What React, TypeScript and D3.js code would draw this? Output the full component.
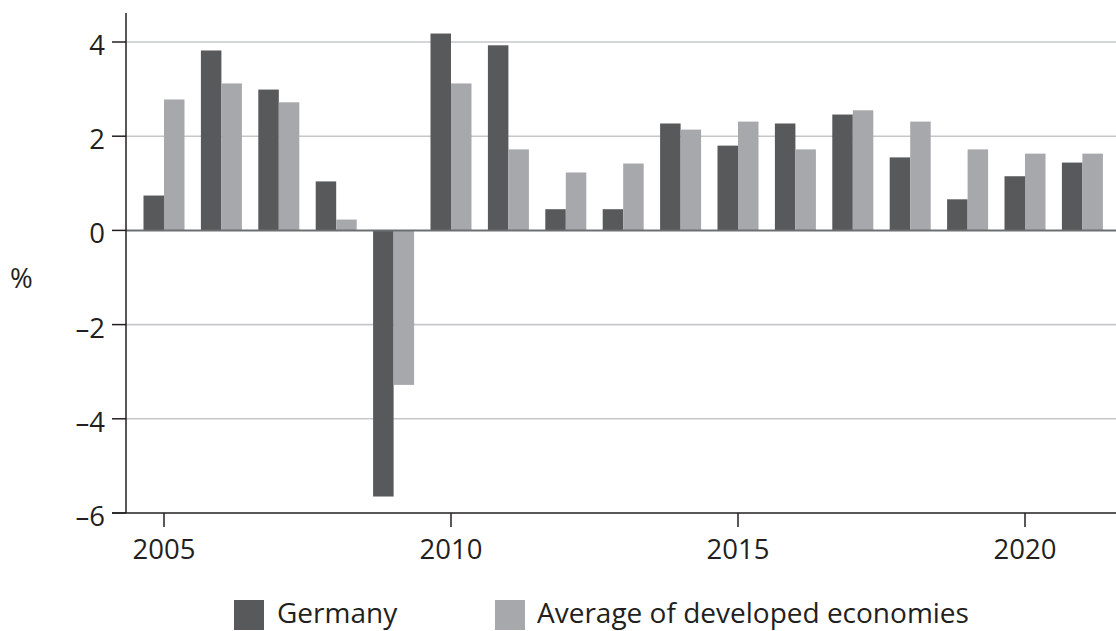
import React from 'react';
import * as d3 from 'd3';

// GDP growth, % per year
const years = [2005, 2006, 2007, 2008, 2009, 2010, 2011, 2012, 2013, 2014, 2015, 2016, 2017, 2018, 2019, 2020, 2021];
const germany = [0.74, 3.82, 2.99, 1.04, -5.65, 4.18, 3.93, 0.45, 0.45, 2.27, 1.8, 2.27, 2.46, 1.55, 0.66, 1.15, 1.44];
const developed = [2.78, 3.12, 2.72, 0.23, -3.28, 3.12, 1.72, 1.23, 1.42, 2.14, 2.31, 1.72, 2.55, 2.31, 1.72, 1.63, 1.63];
const yTicks = [4, 2, 0, -2, -4, -6];
const xTicks = [2005, 2010, 2015, 2020];
const seriesNames = ['Germany', 'Average of developed economies'];

const W = 1116;
const H = 631;
const DARK = '#58595b';
const LIGHT = '#a7a8ab';
const INK = '#231f20';
const FONT = '"Open Sans", "Noto Sans", sans-serif';

export default function App() {
  const x = d3.scaleLinear().domain([2005, 2020]).range([164, 1025]);
  const y = d3.scaleLinear().domain([-6, 4]).range([513, 42]);
  const axisX = 126;
  const barW = 20.5;
  const fmt = (v: number) => (v < 0 ? '\u2013' + Math.abs(v) : String(v));

  return (
    <svg width={W} height={H} style={{ position: 'absolute', left: 0, top: 0, background: '#fff' }} fontFamily={FONT}>
      {/* gridlines */}
      {yTicks.filter(t => t !== 0 && t !== -6).map(t => (
        <line key={t} x1={axisX} x2={W} y1={y(t)} y2={y(t)} stroke="#c6c7c9" strokeWidth={1.6} />
      ))}

      {/* bars */}
      {years.map((yr, i) => (
        <g key={yr}>
          <rect x={x(yr) - barW} width={barW} y={y(Math.max(0, germany[i]))} height={Math.abs(y(germany[i]) - y(0))} fill={DARK} />
          <rect x={x(yr)} width={barW} y={y(Math.max(0, developed[i]))} height={Math.abs(y(developed[i]) - y(0))} fill={LIGHT} />
        </g>
      ))}

      {/* zero line */}
      <line x1={axisX} x2={W} y1={y(0)} y2={y(0)} stroke="#6d6e71" strokeWidth={2} />

      {/* y axis */}
      <line x1={axisX} x2={axisX} y1={13} y2={y(-6)} stroke={INK} strokeWidth={1.5} />
      {yTicks.map(t => (
        <g key={t}>
          <line x1={112} x2={axisX} y1={y(t)} y2={y(t)} stroke={INK} strokeWidth={1.5} />
          <text x={105} y={y(t) + 13} textAnchor="end" fontSize={27.5} fill={INK}>{fmt(t)}</text>
        </g>
      ))}
      <text x={10} y={288} fontSize={27.5} fill={INK}>%</text>

      {/* x axis */}
      <line x1={112} x2={W} y1={y(-6)} y2={y(-6)} stroke={INK} strokeWidth={1.5} />
      {xTicks.map(t => (
        <g key={t}>
          <line x1={x(t)} x2={x(t)} y1={y(-6)} y2={y(-6) + 14} stroke={INK} strokeWidth={1.5} />
          <text x={x(t)} y={559} textAnchor="middle" fontSize={27.5} fill={INK}>{t}</text>
        </g>
      ))}

      {/* legend */}
      <rect x={234} y={600} width={30} height={30} fill={DARK} />
      <text x={277} y={623} fontSize={28} fill={INK}>{seriesNames[0]}</text>
      <rect x={495} y={600} width={30} height={30} fill={LIGHT} />
      <text x={537} y={623} fontSize={28} fill={INK}>{seriesNames[1]}</text>
    </svg>
  );
}
